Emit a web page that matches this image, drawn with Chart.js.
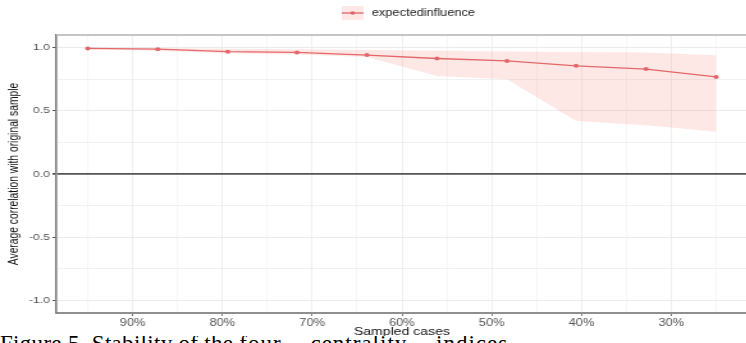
<!DOCTYPE html>
<html>
<head>
<meta charset="utf-8">
<script src="https://cdn.jsdelivr.net/npm/chart.js@4.4.1/dist/chart.umd.min.js"></script>
<style>
  html, body { margin: 0; padding: 0; background: #fff; overflow: hidden; width: 746px; height: 343px; }
  #wrap { position: absolute; left: 0; top: 0; width: 588px; height: 343px; transform: scaleX(1.28); transform-origin: 0 0; }
  #caption { position: absolute; left: 0; top: 336px; width: 746px; height: 12px; overflow: hidden; white-space: nowrap;
             background: #fff; color: #000; font-family: "Liberation Serif", "Times New Roman", serif;
             font-size: 23px; line-height: 16px; letter-spacing: 0.3px; }
  #caption span { word-spacing: 22px; letter-spacing: 1px; }
</style>
</head>
<body>
<div id="wrap"><canvas id="caseChart" width="588" height="343"></canvas></div>
<div id="caption">Figure 5. Stability of the <span>four centrality indices</span></div>
<script>
// sampled cases (%), mean correlation and the ribbon bounds
const sampledCases = [95, 87.2, 79.4, 71.7, 63.9, 56.1, 48.3, 40.6, 32.8, 25];
const meanCor  = [0.994, 0.988, 0.968, 0.962, 0.941, 0.914, 0.895, 0.856, 0.830, 0.768];
const upperCor = [1.000, 0.998, 0.992, 0.987, 0.982, 0.976, 0.970, 0.966, 0.962, 0.940];
const lowerCor = [0.985, 0.975, 0.955, 0.945, 0.925, 0.775, 0.750, 0.420, 0.385, 0.335];

const xTicks = [25, 30, 35, 40, 45, 50, 55, 60, 65, 70, 75, 80, 85, 90, 95];
const yTicks = [-1, -0.75, -0.5, -0.25, 0, 0.25, 0.5, 0.75, 1];
const seriesName = 'expectedInfluence';

const RED = '#e0646a';
const PINK = 'rgba(248,118,109,0.17)';
const SX = 1.28; // horizontal stretch of the original picture

const pts = vals => sampledCases.map((c, i) => ({ x: c, y: vals[i] }));
const isMajorX = v => v % 10 === 0;
const isMajorY = v => Math.abs(v * 2 - Math.round(v * 2)) < 1e-9;

// top border + legend drawn by hand (ggplot style key)
const extras = {
    id: 'extras',
    afterDraw(chart) {
        const { ctx, chartArea: a } = chart;
        ctx.save();
        ctx.strokeStyle = '#c6c6c6';
        ctx.lineWidth = 2;
        ctx.beginPath();
        ctx.moveTo(a.left, a.top);
        ctx.lineTo(a.right, a.top);
        ctx.stroke();

        // legend key
        const kx = 267, ky = 6, kw = 17, kh = 14;
        ctx.fillStyle = PINK;
        ctx.fillRect(kx, ky, kw, kh);
        ctx.strokeStyle = RED;
        ctx.lineWidth = 1.3;
        ctx.beginPath();
        ctx.moveTo(kx, ky + kh / 2);
        ctx.lineTo(kx + kw, ky + kh / 2);
        ctx.stroke();
        ctx.fillStyle = RED;
        ctx.beginPath();
        ctx.arc(kx + kw / 2, ky + kh / 2, 1.8, 0, Math.PI * 2);
        ctx.fill();

        ctx.fillStyle = '#222';
        ctx.font = '10px "Liberation Sans", Arial, sans-serif';
        ctx.textBaseline = 'middle';
        ctx.textAlign = 'left';
        ctx.fillText(seriesName.toLowerCase(), 290.5, 13);
        ctx.restore();
    }
};

new Chart(document.getElementById('caseChart'), {
    type: 'line',
    data: {
        datasets: [
            { data: pts(upperCor), borderWidth: 0, pointRadius: 0, fill: '+1', backgroundColor: PINK },
            { data: pts(lowerCor), borderWidth: 0, pointRadius: 0, fill: false },
            { label: seriesName, data: pts(meanCor), borderColor: RED, borderWidth: 1.3,
              pointRadius: 2, pointBackgroundColor: RED, pointBorderWidth: 0, fill: false }
        ]
    },
    options: {
        responsive: false,
        animation: false,
        layout: { padding: { top: 35, left: 0, right: 0, bottom: 0 } },
        plugins: { legend: { display: false }, tooltip: { enabled: false } },
        scales: {
            x: {
                type: 'linear', reverse: true, min: 21.5, max: 98.5,
                afterBuildTicks: s => { s.ticks = xTicks.map(v => ({ value: v })); },
                afterFit: s => { s.height = 30; },
                ticks: {
                    autoSkip: false, maxRotation: 0, padding: 1, color: '#555',
                    font: { family: '"Liberation Sans", Arial, sans-serif', size: 10 },
                    callback: v => isMajorX(v) ? v + '%' : ''
                },
                grid: {
                    color: '#ebebeb', tickLength: 3,
                    lineWidth: c => (isMajorX(c.tick.value) ? 1 : 0.6) / SX,
                    tickColor: c => isMajorX(c.tick.value) ? '#555' : 'rgba(0,0,0,0)',
                    tickWidth: 1 / SX
                },
                border: { color: '#8f8f8f', width: 2 },
                title: {
                    display: true, text: 'Sampled cases', color: '#111',
                    font: { family: '"Liberation Sans", Arial, sans-serif', size: 11 },
                    padding: { top: 0, bottom: 4.4 }
                }
            },
            y: {
                min: -1.1, max: 1.1,
                afterBuildTicks: s => { s.ticks = yTicks.map(v => ({ value: v })); },
                afterFit: s => { s.width = 44; },
                ticks: {
                    autoSkip: false, padding: 2, color: '#555',
                    font: { family: '"Liberation Sans", Arial, sans-serif', size: 9.5 },
                    callback: v => isMajorY(v) ? v.toFixed(1) : ''
                },
                grid: {
                    tickLength: 3,
                    color: c => c.tick.value === 0 ? '#555' : '#ebebeb',
                    lineWidth: c => c.tick.value === 0 ? 1.8 : (isMajorY(c.tick.value) ? 1.1 : 0.7),
                    tickColor: c => isMajorY(c.tick.value) ? '#555' : 'rgba(0,0,0,0)'
                },
                border: { color: '#7c7c7c', width: 1.6 },
                title: {
                    display: true, text: 'Average correlation with original sample', color: '#111',
                    font: { family: '"Liberation Sans", Arial, sans-serif', size: 10.3 },
                    padding: { top: 4.7, bottom: 0 }
                }
            }
        }
    },
    plugins: [extras]
});
</script>
</body>
</html>
